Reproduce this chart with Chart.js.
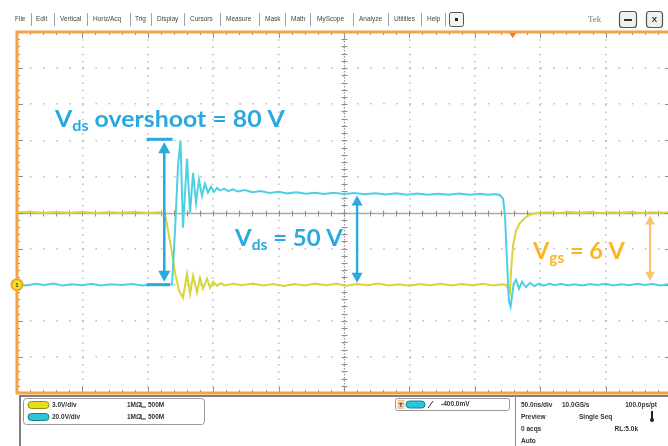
<!DOCTYPE html>
<html>
<head>
<meta charset="utf-8">
<script src="https://cdn.jsdelivr.net/npm/chart.js@4"></script>
<style>
html,body{margin:0;padding:0;background:#fff;overflow:hidden;width:668px;height:446px;}
#wrap{position:absolute;left:0;top:0;width:672px;height:446px;}
</style>
</head>
<body>
<div id="wrap"><canvas id="scope"></canvas></div>
<script>
// Switching waveforms: CH2 = Vds (20 V/div), CH1 = Vgs (3 V/div), 50 ns/div

// CH2 drain-source voltage
const vdsTime = [-250,-243,-236,-229,-222,-215,-208,-200,-193,-186,-178,-170,-162,-154,-147,-140,-134,-131.5,
  -129.2,-126.9,-125.0,-123.1,-120.0,-117.7,-115.4,-113.1,-110.9,-108.6,-106.3,-104.0,-101.7,-99.4,-97.1,-94.8,-91.7,-88.7,
  -85,-81,-76,-70,-64,-57,-50,-43,-36,-29,-22,-15,-8,0,8,16,24,32,40,48,56,64,72,80,88,96,104,110,116,119.3,
  121.6,123.1,124.6,126.1,127.3,128.5,129.7,131.5,133.8,136.1,139.1,142.2,145.5,149,
  153,157,161,166,171,176,182,188,194,200,206,212,218,224,230,236,242,248];
const vdsVolts = [0.3,-0.4,0.5,-0.2,0.6,-0.5,0.2,-0.3,0.5,-0.4,0.3,-0.2,0.4,-0.5,0.3,-0.2,0.2,0.0,
  29.9,65.9,80.0,31.6,69.8,39.9,62.0,45.4,58.2,49.3,56.0,51.0,54.3,51.5,53.7,52.1,53.2,51.8,
  52.8,51.6,52.4,51.2,51.9,50.8,51.5,50.6,51.2,50.4,51.0,50.3,50.9,50.2,50.8,50.1,50.7,50.0,50.6,49.9,50.5,49.8,50.4,49.9,50.5,49.8,50.4,49.9,50.2,49.6,
  47.6,38.2,13.3,-8.9,-12.2,-6.0,0.5,2.8,-2.2,1.6,-1.4,1.0,-0.8,0.6,
  -0.5,0.6,-0.3,0.5,-0.4,0.3,-0.5,0.4,-0.2,0.5,-0.4,0.3,-0.3,0.5,-0.2,0.4,-0.4,0.2];

// CH1 gate-source voltage
const vgsTime = [-250,-240,-230,-220,-210,-200,-190,-180,-170,-160,-150,-142,-137,
  -135.3,-132.3,-129.2,-126.1,-123.1,-120.0,-117.7,-115.4,-112.4,-110.1,-107.8,-104.7,-102.4,-100.1,-97.1,-94.0,-91,
  -85,-78,-70,-62,-54,-46,-38,-30,-22,-14,-6,2,10,18,26,34,42,50,58,66,74,82,90,98,106,114,120,123.9,
  125.4,126.9,127.7,129.2,131.5,134.6,138.4,142.2,148.3,157.5,
  165,172,180,188,196,204,212,220,228,236,244,250];
const vgsVolts = [6.0,6.06,5.95,6.04,5.97,6.05,5.96,6.03,5.97,6.04,5.96,6.02,5.95,
  5.0,3.16,1.0,-0.5,-1.08,0.91,-0.75,0.75,-0.66,0.58,-0.33,0.5,-0.25,0.25,-0.08,0.12,-0.06,
  0.08,-0.05,0.1,-0.07,0.06,-0.1,0.05,-0.06,0.09,-0.04,0.07,-0.08,0.05,-0.05,0.1,-0.06,0.04,-0.09,0.06,-0.04,0.08,-0.07,0.05,-0.05,0.07,-0.06,0.03,0.0,
  -0.33,-0.66,1.16,3.24,4.49,5.15,5.57,5.82,5.98,6.03,
  5.96,6.05,5.97,6.04,5.95,6.03,5.97,6.05,5.96,6.03,5.97,6.02];

// Graticule: 10 x 10 divisions
const timeTicks = [-250,-200,-150,-100,-50,0,50,100,150,200,250];
const vgsTicks = [-9,-6,-3,0,3,6,9,12,15,18,21];

// Measured levels called out on the screen
const overshootV = 80;
const plateauV = 50;
const gateV = 6;

// Instrument chrome text
const menuItems = ['File','Edit','Vertical','Horiz/Acq','Trig','Display','Cursors','Measure','Mask','Math','MyScope','Analyze','Utilities','Help'];
const ch1Readout = ['3.0V/div','1MΩ','500M'];
const ch2Readout = ['20.0V/div','1MΩ','500M'];
const trigReadout = '-400.0mV';
const horizReadout = ['50.0ns/div','10.0GS/s','100.0ps/pt'];
const acqReadout = ['Preview','Single Seq','0 acqs','RL:5.0k','Auto'];

const C = {
  vds: '#4fd0e2', vgs: '#d8d43a', blue: '#2aa8e0', orangeText: '#fbb425',
  orangeArrow: '#f8c56c', frame: '#f2a446', tick: '#8e8e8e', grid: 'rgba(150,150,150,0.65)', text: '#333'
};

function rrect(ctx, x, y, w, h, r) {
  ctx.beginPath();
  ctx.moveTo(x + r, y); ctx.lineTo(x + w - r, y); ctx.quadraticCurveTo(x + w, y, x + w, y + r);
  ctx.lineTo(x + w, y + h - r); ctx.quadraticCurveTo(x + w, y + h, x + w - r, y + h);
  ctx.lineTo(x + r, y + h); ctx.quadraticCurveTo(x, y + h, x, y + h - r);
  ctx.lineTo(x, y + r); ctx.quadraticCurveTo(x, y, x + r, y); ctx.closePath();
}

function pill(ctx, x, y, w, h, fill, edge) {
  ctx.save();
  rrect(ctx, x, y, w, h, h / 2);
  ctx.fillStyle = fill; ctx.fill();
  ctx.strokeStyle = edge; ctx.lineWidth = 1; ctx.stroke();
  ctx.restore();
}

// Label with subscript, stretched to span [x0, x1]
function subLabel(ctx, parts, x0, x1, base, color, size) {
  const mainF = `bold ${size}px Lato, "Open Sans", sans-serif`;
  const subF = `bold ${Math.round(size * 0.64)}px Lato, "Open Sans", sans-serif`;
  let w = 0;
  parts.forEach(p => { ctx.font = p.sub ? subF : mainF; w += ctx.measureText(p.t).width; });
  ctx.save();
  ctx.translate(x0, base);
  ctx.scale((x1 - x0) / w, 1);
  ctx.fillStyle = color; ctx.textBaseline = 'alphabetic'; ctx.textAlign = 'left';
  let cx = 0;
  parts.forEach(p => {
    ctx.font = p.sub ? subF : mainF;
    ctx.fillText(p.t, cx, p.sub ? size * 0.2 : 0);
    cx += ctx.measureText(p.t).width;
  });
  ctx.restore();
}

function vArrow(ctx, x, yTop, yBot, color, lw, head) {
  ctx.save();
  ctx.strokeStyle = color; ctx.fillStyle = color; ctx.lineWidth = lw;
  ctx.beginPath(); ctx.moveTo(x, yTop + head - 1); ctx.lineTo(x, yBot - head + 1); ctx.stroke();
  ctx.beginPath(); ctx.moveTo(x, yTop); ctx.lineTo(x - head * 0.55, yTop + head); ctx.lineTo(x + head * 0.55, yTop + head); ctx.closePath(); ctx.fill();
  ctx.beginPath(); ctx.moveTo(x, yBot); ctx.lineTo(x - head * 0.55, yBot - head); ctx.lineTo(x + head * 0.55, yBot - head); ctx.closePath(); ctx.fill();
  ctx.restore();
}

const scopeChrome = {
  id: 'scopeChrome',
  beforeDraw(chart) {
    const ctx = chart.ctx;
    ctx.save();
    ctx.fillStyle = '#fff';
    ctx.fillRect(0, 0, chart.width, chart.height);

    // menu bar
    const starts = [15,36,60,93,135,157,190,226,265,291,317,359,394,427];
    const seps = [31,54,87,130,151,184,220,259,285,310,353,388,421,445];
    ctx.font = '6.5px "Liberation Sans", Arial, sans-serif';
    ctx.fillStyle = '#444'; ctx.textBaseline = 'middle';
    menuItems.forEach((m, i) => ctx.fillText(m, starts[i], 19.5));
    ctx.strokeStyle = '#9aa0b0'; ctx.lineWidth = 1;
    seps.forEach(s => { ctx.beginPath(); ctx.moveTo(s + 0.5, 13); ctx.lineTo(s + 0.5, 26); ctx.stroke(); });
    rrect(ctx, 449.5, 12.5, 14, 14, 2); ctx.fillStyle = '#f4f4f4'; ctx.fill(); ctx.strokeStyle = '#555'; ctx.stroke();
    ctx.fillStyle = '#222'; ctx.fillRect(455, 18, 3, 3);
    ctx.font = '9px "Liberation Serif", serif'; ctx.fillStyle = '#777';
    ctx.fillText('Tek', 588, 19.5);
    rrect(ctx, 619.5, 11.5, 17, 16, 3); ctx.fillStyle = '#f0f0f0'; ctx.fill(); ctx.strokeStyle = '#555'; ctx.lineWidth = 1.2; ctx.stroke();
    ctx.fillStyle = '#333'; ctx.fillRect(624, 19, 8, 2);
    rrect(ctx, 646.5, 11.5, 16, 16, 3); ctx.fillStyle = '#f0f0f0'; ctx.fill(); ctx.stroke();
    ctx.font = 'bold 8px "Liberation Sans", Arial'; ctx.fillStyle = '#333'; ctx.textAlign = 'center';
    ctx.fillText('X', 654.5, 20);
    ctx.textAlign = 'left';

    // bottom readout panel
    ctx.strokeStyle = '#555'; ctx.lineWidth = 1.5;
    ctx.beginPath(); ctx.moveTo(20, 446); ctx.lineTo(20, 396); ctx.lineTo(672, 396); ctx.stroke();
    ctx.lineWidth = 1; ctx.strokeStyle = '#999';
    rrect(ctx, 23.5, 398.5, 181, 26, 3); ctx.stroke();
    pill(ctx, 28, 401.5, 21, 7, '#e6de1e', '#9a9000');
    pill(ctx, 28, 413.5, 21, 7, '#2ec4d6', '#13808c');
    ctx.font = 'bold 6.5px "Liberation Sans", Arial, sans-serif'; ctx.textBaseline = 'middle';
    [[ch1Readout, 405], [ch2Readout, 417]].forEach(([r, y]) => {
      ctx.fillStyle = C.text;
      ctx.fillText(r[0], 52, y);
      ctx.fillText(r[1], 127, y);
      ctx.beginPath(); ctx.moveTo(141, y - 3); ctx.lineTo(141, y + 2); ctx.lineTo(146, y + 2); ctx.strokeStyle = C.text; ctx.stroke();
      ctx.fillText(r[2], 148, y);
    });
    // trigger readout
    ctx.strokeStyle = '#999';
    rrect(ctx, 395.5, 398.5, 114, 12, 2); ctx.stroke();
    ctx.fillStyle = '#f3c9a2'; ctx.fillRect(397.5, 400, 7, 9);
    ctx.fillStyle = C.text; ctx.font = 'bold 6px "Liberation Sans", Arial'; ctx.fillText('T', 399, 405);
    pill(ctx, 406, 401, 19, 7, '#2ec4d6', '#13808c');
    ctx.beginPath(); ctx.moveTo(428, 408); ctx.lineTo(433, 401); ctx.strokeStyle = C.text; ctx.stroke();
    ctx.font = 'bold 6.5px "Liberation Sans", Arial, sans-serif';
    ctx.fillStyle = C.text;
    ctx.fillText(trigReadout, 441, 404.5);
    // horizontal / acquisition
    ctx.strokeStyle = '#888';
    ctx.beginPath(); ctx.moveTo(515.5, 396); ctx.lineTo(515.5, 446); ctx.stroke();
    ctx.fillText(horizReadout[0], 521, 405);
    ctx.fillText(horizReadout[1], 562, 405);
    ctx.textAlign = 'right'; ctx.fillText(horizReadout[2], 657, 405); ctx.textAlign = 'left';
    ctx.fillText(acqReadout[0], 521, 417);
    ctx.fillText(acqReadout[1], 579, 417);
    ctx.fillStyle = '#222'; ctx.fillRect(651, 411, 2, 8); ctx.beginPath(); ctx.arc(652, 420, 2, 0, Math.PI * 2); ctx.fill();
    ctx.fillStyle = C.text;
    ctx.fillText(acqReadout[2], 521, 429);
    ctx.textAlign = 'right'; ctx.fillText(acqReadout[3], 638, 429); ctx.textAlign = 'left';
    ctx.fillText(acqReadout[4], 521, 441);
    ctx.restore();
  },
  beforeDatasetsDraw(chart) {
    const ctx = chart.ctx, a = chart.chartArea;
    const xs = chart.scales.x, yg = chart.scales.yVgs;
    const cx = Math.round(xs.getPixelForValue(0)) + 0.5;
    const cy = Math.round(yg.getPixelForValue(6)) + 0.5;
    ctx.save();
    // center horizontal line
    ctx.strokeStyle = 'rgba(170,162,135,0.9)'; ctx.lineWidth = 1.6;
    ctx.beginPath(); ctx.moveTo(a.left, cy); ctx.lineTo(a.right, cy); ctx.stroke();
    // center vertical line
    ctx.strokeStyle = '#9a9a9a'; ctx.lineWidth = 1.2; ctx.setLineDash([1.5, 1.5]);
    ctx.beginPath(); ctx.moveTo(cx, a.top); ctx.lineTo(cx, a.bottom); ctx.stroke();
    ctx.setLineDash([]);
    ctx.strokeStyle = C.tick; ctx.lineWidth = 1;
    for (let t = -250; t <= 250; t += 10) {
      const px = Math.round(xs.getPixelForValue(t)) + 0.5;
      ctx.beginPath(); ctx.moveTo(px, cy - 3); ctx.lineTo(px, cy + 3); ctx.stroke();
    }
    for (let v = -9; v <= 21; v += 0.6) {
      const py = Math.round(yg.getPixelForValue(v)) + 0.5;
      ctx.beginPath(); ctx.moveTo(cx - 3, py); ctx.lineTo(cx + 3, py); ctx.stroke();
    }
    ctx.restore();
  },
  afterDatasetsDraw(chart) {
    const ctx = chart.ctx, a = chart.chartArea;
    const xs = chart.scales.x, yg = chart.scales.yVgs, yd = chart.scales.yVds;
    ctx.save();
    // edge ticks
    ctx.strokeStyle = C.tick; ctx.lineWidth = 1;
    for (let i = 0; i <= 50; i++) {
      const t = -250 + i * 10;
      const px = Math.round(xs.getPixelForValue(t)) + 0.5;
      const len = i % 5 === 0 ? 6 : 3;
      ctx.beginPath(); ctx.moveTo(px, a.top); ctx.lineTo(px, a.top + len); ctx.stroke();
      ctx.beginPath(); ctx.moveTo(px, a.bottom); ctx.lineTo(px, a.bottom - len); ctx.stroke();
    }
    for (let i = 0; i <= 50; i++) {
      const v = -9 + i * 0.6;
      const py = Math.round(yg.getPixelForValue(v)) + 0.5;
      const len = i % 5 === 0 ? 6 : 3;
      ctx.beginPath(); ctx.moveTo(a.left, py); ctx.lineTo(a.left + len, py); ctx.stroke();
      ctx.beginPath(); ctx.moveTo(a.right, py); ctx.lineTo(a.right - len, py); ctx.stroke();
    }
    // window frame
    ctx.strokeStyle = C.frame; ctx.lineWidth = 3;
    ctx.beginPath(); ctx.moveTo(a.right + 2, a.top); ctx.lineTo(a.left, a.top); ctx.lineTo(a.left, a.bottom); ctx.lineTo(a.right + 2, a.bottom); ctx.stroke();
    // trigger position marker
    const tp = xs.getPixelForValue(129);
    ctx.fillStyle = '#f07e1e';
    ctx.beginPath(); ctx.moveTo(tp - 3.5, a.top + 1); ctx.lineTo(tp + 3.5, a.top + 1); ctx.lineTo(tp, a.top + 6); ctx.closePath(); ctx.fill();
    // CH1 ground marker
    const g = yg.getPixelForValue(0);
    ctx.beginPath(); ctx.arc(a.left, g, 5.5, 0, Math.PI * 2);
    ctx.fillStyle = '#f4e41c'; ctx.fill(); ctx.strokeStyle = '#f0a030'; ctx.lineWidth = 2; ctx.stroke();
    ctx.fillStyle = '#333'; ctx.font = 'bold 6px "Liberation Sans", Arial'; ctx.textAlign = 'center'; ctx.textBaseline = 'middle';
    ctx.fillText('1', a.left, g + 0.5);
    ctx.textAlign = 'left';

    // overshoot arrow with caps
    const ax1 = xs.getPixelForValue(-137.4);
    const yPk = yd.getPixelForValue(overshootV), y0 = yd.getPixelForValue(0);
    ctx.strokeStyle = C.blue; ctx.lineWidth = 3;
    ctx.beginPath(); ctx.moveTo(xs.getPixelForValue(-151), yPk - 1); ctx.lineTo(xs.getPixelForValue(-131), yPk - 1); ctx.stroke();
    ctx.beginPath(); ctx.moveTo(xs.getPixelForValue(-151), y0); ctx.lineTo(xs.getPixelForValue(-133), y0); ctx.stroke();
    vArrow(ctx, ax1, yPk + 2, y0 - 3, C.blue, 2.6, 11);
    // plateau arrow
    vArrow(ctx, xs.getPixelForValue(10), yd.getPixelForValue(plateauV) + 1, y0 - 2, C.blue, 2.4, 10);
    // gate arrow
    vArrow(ctx, xs.getPixelForValue(234), yg.getPixelForValue(gateV) + 3, yg.getPixelForValue(0) - 4, C.orangeArrow, 2.2, 9);

    // labels
    subLabel(ctx, [{t: 'V'}, {t: 'ds', sub: true}, {t: ` overshoot = ${overshootV} V`}],
      xs.getPixelForValue(-221), xs.getPixelForValue(-45.2), yd.getPixelForValue(87.5), C.blue, 23);
    subLabel(ctx, [{t: 'V'}, {t: 'ds', sub: true}, {t: ` = ${plateauV} V`}],
      xs.getPixelForValue(-83.3), xs.getPixelForValue(-0.8), yd.getPixelForValue(21.6), C.blue, 23);
    subLabel(ctx, [{t: 'V'}, {t: 'gs', sub: true}, {t: ` = ${gateV} V`}],
      xs.getPixelForValue(144.5), xs.getPixelForValue(214.8), yg.getPixelForValue(2.16), C.orangeText, 23);
    ctx.restore();
  }
};

const toXY = (t, v) => t.map((x, i) => ({x, y: v[i]}));

new Chart(document.getElementById('scope'), {
  type: 'line',
  data: {
    datasets: [
      {label: 'Vds', data: toXY(vdsTime, vdsVolts), yAxisID: 'yVds', borderColor: C.vds, borderWidth: 2, pointRadius: 0, tension: 0},
      {label: 'Vgs', data: toXY(vgsTime, vgsVolts), yAxisID: 'yVgs', borderColor: C.vgs, borderWidth: 2, pointRadius: 0, tension: 0}
    ]
  },
  options: {
    responsive: true,
    maintainAspectRatio: false,
    animation: false,
    devicePixelRatio: 1,
    events: [],
    layout: {padding: {left: 17, top: 32, right: 1, bottom: 53}},
    plugins: {legend: {display: false}, tooltip: {enabled: false}},
    scales: {
      x: {
        type: 'linear', min: -250, max: 250,
        afterBuildTicks: s => { s.ticks = timeTicks.map(v => ({value: v})); },
        ticks: {display: false},
        grid: {color: C.grid, lineWidth: 1.5, drawTicks: false},
        border: {display: false, dash: [1.5, 5.72]}
      },
      yVgs: {
        type: 'linear', position: 'left', min: -9, max: 21,
        afterBuildTicks: s => { s.ticks = vgsTicks.map(v => ({value: v})); },
        ticks: {display: false},
        grid: {color: C.grid, lineWidth: 1.5, drawTicks: false},
        border: {display: false, dash: [1.5, 11.58]}
      },
      yVds: {type: 'linear', display: false, min: -60, max: 140}
    }
  },
  plugins: [scopeChrome]
});
</script>
</body>
</html>
